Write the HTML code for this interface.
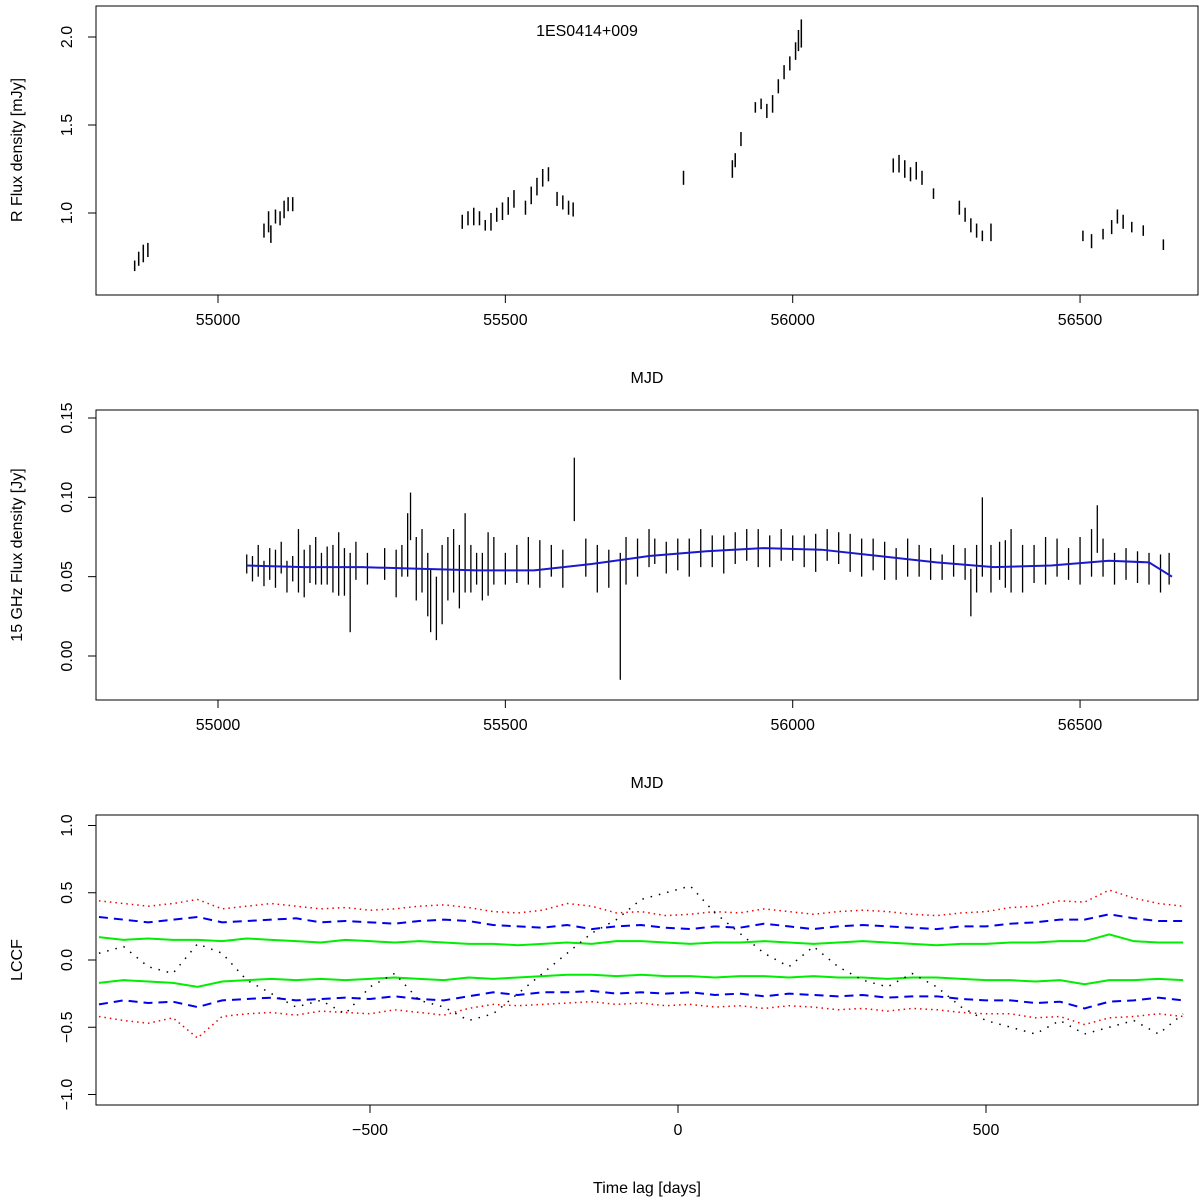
<!DOCTYPE html>
<html><head><meta charset="utf-8"><style>
html,body{margin:0;padding:0;background:#fff;}
svg{display:block;font-family:"Liberation Sans",Arial,sans-serif;}
</style></head><body>
<svg id="chart" width="1200" height="1200" viewBox="0 0 1200 1200" xmlns="http://www.w3.org/2000/svg"></svg>
<script>
// ---- Panel 1: optical R flux (mjd, flux, err)
const optMjd=[54855,54862,54870,54878,55080,55088,55092,55100,55108,55115,55122,55130,55425,55435,55445,55455,55465,55475,55485,55495,55505,55515,55535,55545,55555,55565,55575,55590,55600,55610,55618,55810,55895,55900,55910,55935,55945,55955,55965,55975,55985,55995,56005,56010,56015,56175,56185,56195,56205,56215,56225,56245,56290,56300,56310,56320,56330,56345,56505,56520,56540,56555,56565,56575,56590,56610,56645];
const optFlux=[0.70,0.74,0.77,0.79,0.90,0.95,0.88,0.98,0.97,1.02,1.05,1.05,0.95,0.97,0.98,0.97,0.93,0.95,0.99,1.01,1.04,1.08,1.03,1.10,1.15,1.20,1.22,1.08,1.06,1.03,1.02,1.20,1.25,1.30,1.42,1.60,1.62,1.58,1.62,1.72,1.80,1.85,1.92,1.98,2.02,1.27,1.28,1.25,1.22,1.24,1.20,1.11,1.03,0.99,0.93,0.90,0.87,0.89,0.87,0.84,0.88,0.92,0.98,0.95,0.92,0.90,0.82];
const optErr=[0.03,0.04,0.05,0.04,0.04,0.06,0.05,0.04,0.04,0.05,0.04,0.04,0.04,0.04,0.05,0.04,0.03,0.05,0.04,0.05,0.05,0.05,0.04,0.05,0.05,0.05,0.04,0.04,0.04,0.04,0.04,0.04,0.05,0.04,0.04,0.03,0.03,0.04,0.05,0.04,0.04,0.04,0.05,0.06,0.08,0.04,0.05,0.05,0.04,0.05,0.04,0.03,0.04,0.04,0.04,0.04,0.03,0.05,0.03,0.04,0.03,0.04,0.04,0.04,0.03,0.03,0.03];
// ---- Panel 2: radio 15 GHz
const radMjd=[55050,55060,55070,55080,55090,55100,55110,55120,55130,55140,55150,55160,55170,55180,55190,55200,55210,55220,55230,55240,55260,55290,55310,55320,55330,55335,55345,55355,55365,55370,55380,55390,55400,55410,55420,55430,55440,55450,55460,55470,55480,55500,55520,55540,55560,55580,55600,55620,55640,55660,55680,55700,55710,55730,55750,55760,55780,55800,55820,55840,55860,55880,55900,55920,55940,55960,55980,56000,56020,56040,56060,56080,56100,56120,56140,56160,56180,56200,56220,56240,56260,56280,56300,56310,56320,56330,56345,56360,56370,56380,56400,56420,56440,56460,56480,56500,56520,56530,56540,56560,56580,56600,56620,56640,56655];
const radFlux=[.058,.055,.060,.052,.058,.055,.062,.050,.055,.060,.052,.058,.060,.055,.057,.055,.058,.053,.040,.060,.055,.058,.052,.060,.070,.088,.055,.060,.045,.035,.030,.045,.055,.060,.050,.065,.055,.055,.050,.058,.060,.055,.058,.060,.058,.060,.055,.105,.062,.055,.055,.025,.060,.062,.068,.066,.062,.064,.062,.068,.066,.064,.068,.070,.068,.066,.070,.068,.066,.065,.070,.068,.065,.062,.064,.060,.058,.062,.060,.058,.056,.060,.058,.040,.055,.075,.055,.060,.058,.060,.055,.058,.060,.062,.058,.060,.065,.080,.062,.055,.058,.056,.055,.052,.055];
const radErr=[.006,.008,.01,.008,.01,.012,.01,.01,.008,.02,.015,.012,.015,.01,.012,.015,.02,.015,.025,.012,.01,.01,.015,.01,.02,.015,.02,.02,.02,.02,.02,.025,.02,.02,.02,.025,.015,.01,.015,.02,.015,.01,.012,.015,.015,.01,.012,.02,.012,.015,.012,.04,.015,.012,.012,.008,.01,.01,.012,.012,.01,.012,.01,.01,.012,.01,.01,.008,.01,.012,.01,.01,.012,.012,.01,.012,.01,.012,.01,.01,.008,.01,.01,.015,.015,.025,.015,.012,.015,.02,.015,.012,.015,.012,.01,.015,.015,.015,.012,.01,.01,.01,.01,.012,.01];
const fitMjd=[55050,55150,55250,55350,55450,55550,55650,55750,55850,55950,56050,56150,56250,56350,56450,56550,56620,56660];
const fitVal=[.057,.056,.056,.055,.054,.054,.058,.063,.066,.068,.067,.063,.059,.056,.057,.060,.059,.050];
// ---- Panel 3: LCCF
const lags=[];for(let l=-940;l<=820;l+=40)lags.push(l);
const greenU=[.17,.15,.16,.15,.15,.14,.16,.15,.14,.13,.15,.14,.13,.14,.13,.12,.12,.11,.12,.13,.12,.14,.14,.13,.12,.13,.13,.14,.13,.12,.13,.14,.13,.12,.11,.12,.12,.13,.13,.14,.14,.19,.14,.13,.13];
const greenL=[-.17,-.15,-.16,-.17,-.20,-.16,-.15,-.14,-.15,-.14,-.15,-.14,-.13,-.14,-.15,-.13,-.14,-.13,-.12,-.11,-.11,-.12,-.11,-.12,-.12,-.13,-.12,-.12,-.13,-.12,-.13,-.13,-.14,-.13,-.13,-.14,-.15,-.15,-.16,-.15,-.18,-.15,-.15,-.14,-.15];
const blueU=[.32,.30,.28,.30,.32,.28,.29,.30,.31,.28,.29,.28,.27,.29,.30,.29,.26,.25,.24,.26,.23,.25,.26,.24,.23,.25,.24,.27,.25,.23,.25,.26,.25,.24,.23,.25,.25,.27,.28,.30,.30,.34,.31,.29,.29];
const blueL=[-.33,-.30,-.32,-.31,-.35,-.30,-.29,-.28,-.30,-.29,-.28,-.29,-.27,-.29,-.30,-.27,-.24,-.26,-.24,-.24,-.23,-.25,-.24,-.25,-.24,-.26,-.25,-.27,-.25,-.26,-.27,-.26,-.28,-.27,-.27,-.29,-.30,-.30,-.32,-.31,-.36,-.31,-.30,-.28,-.30];
const redU=[.44,.42,.40,.42,.45,.38,.40,.42,.40,.38,.39,.37,.38,.40,.41,.39,.36,.35,.37,.42,.40,.35,.36,.33,.34,.36,.35,.38,.36,.34,.36,.37,.36,.34,.33,.35,.36,.39,.40,.44,.43,.52,.46,.42,.40];
const redL=[-.42,-.45,-.47,-.43,-.58,-.42,-.40,-.39,-.41,-.38,-.39,-.40,-.37,-.39,-.41,-.36,-.33,-.34,-.33,-.32,-.31,-.33,-.32,-.34,-.33,-.35,-.34,-.36,-.34,-.35,-.37,-.36,-.38,-.36,-.37,-.39,-.40,-.40,-.43,-.42,-.48,-.43,-.42,-.40,-.42];
const lccf=[.05,.10,-.05,-.10,.12,.05,-.15,-.25,-.35,-.30,-.40,-.20,-.10,-.30,-.35,-.45,-.40,-.25,-.10,.05,.20,.30,.45,.50,.55,.35,.20,.05,-.05,.10,-.05,-.15,-.20,-.10,-.20,-.35,-.45,-.50,-.55,-.45,-.55,-.50,-.45,-.55,-.40];

const svg=document.getElementById('chart');
const NS='http://www.w3.org/2000/svg';
function mk(tag,attrs,parent){const e=document.createElementNS(NS,tag);for(const k in attrs)e.setAttribute(k,attrs[k]);(parent||svg).appendChild(e);return e;}
const xM=v=>218+(v-55000)*0.5747;
const y1=v=>213-(v-1)*176;
const y2=v=>656-v*1586.7;
const xL=v=>678+v*0.616;
const y3=v=>960-v*134.5;

function frame(top,bot,name){const r=mk('rect',{x:96,y:top,width:1102,height:bot-top,fill:'none',stroke:'#000','stroke-width':1});
}
function xticks(vals,fx,bot,name){const g=mk('g',{});
vals.forEach(v=>{mk('line',{x1:fx(v),x2:fx(v),y1:bot,y2:bot+8,stroke:'#000'},g);
const t=mk('text',{x:fx(v),y:bot+30,'font-size':16,'text-anchor':'middle'},g);t.textContent=v<0?'\u2212'+(-v):v;});}
function yticks(vals,labels,fy,name){const g=mk('g',{});
vals.forEach((v,i)=>{const y=fy(v);mk('line',{x1:88,x2:96,y1:y,y2:y,stroke:'#000'},g);
const t=mk('text',{x:72,y:y,'font-size':16,'text-anchor':'middle',transform:`rotate(-90 72 ${y})`},g);t.textContent=labels[i];});}
function label(x,y,txt,rot,name){const t=mk('text',{x:x,y:y,'font-size':16,'text-anchor':'middle'});if(rot)t.setAttribute('transform',`rotate(-90 ${x} ${y})`);t.textContent=txt;
}

// Panel 1
frame(6,295,'optical-plot-frame');
xticks([55000,55500,56000,56500],xM,295,'optical-x-axis');
yticks([1.0,1.5,2.0],['1.0','1.5','2.0'],y1,'optical-y-axis');
label(647,383,'MJD',false,'optical-x-axis-title');
label(22,150,'R Flux density [mJy]',true,'optical-y-axis-title');
label(587,36,'1ES0414+009',false,'source-title');
const g1=mk('g',{stroke:'#000','stroke-width':1.5});
optMjd.forEach((m,i)=>{const l=mk('line',{x1:xM(m),x2:xM(m),y1:y1(optFlux[i]-optErr[i]),y2:y1(optFlux[i]+optErr[i])},g1);
});

// Panel 2
frame(410,700,'radio-plot-frame');
xticks([55000,55500,56000,56500],xM,700,'radio-x-axis');
yticks([0,0.05,0.10,0.15],['0.00','0.05','0.10','0.15'],y2,'radio-y-axis');
label(647,788,'MJD',false,'radio-x-axis-title');
label(22,555,'15 GHz Flux density [Jy]',true,'radio-y-axis-title');
const g2=mk('g',{stroke:'#000','stroke-width':1.3});
radMjd.forEach((m,i)=>{const l=mk('line',{x1:xM(m),x2:xM(m),y1:y2(radFlux[i]-radErr[i]),y2:y2(radFlux[i]+radErr[i])},g2);
});
const fit=mk('polyline',{points:fitMjd.map((m,i)=>xM(m)+','+y2(fitVal[i])).join(' '),fill:'none',stroke:'#1a1acc','stroke-width':2});


// Panel 3
frame(815,1105,'lccf-plot-frame');
xticks([-500,0,500],xL,1105,'lccf-x-axis');
yticks([-1,-0.5,0,0.5,1],['\u22121.0','\u22120.5','0.0','0.5','1.0'],y3,'lccf-y-axis');
label(647,1193,'Time lag [days]',false,'lccf-x-axis-title');
label(22,960,'LCCF',true,'lccf-y-axis-title');
function curve(arr,color,dash,name,w){const p=mk('polyline',{points:lags.map((l,i)=>xL(l)+','+y3(arr[i])).join(' '),fill:'none',stroke:color,'stroke-width':w,'stroke-dasharray':dash});
}
curve(redU,'#e00','1.5 4','red-upper-band',1.5);curve(redL,'#e00','1.5 4','red-lower-band',1.5);
curve(blueU,'#00e','9 6','blue-upper-band',2);curve(blueL,'#00e','9 6','blue-lower-band',2);
curve(greenU,'#0e0','','green-upper-band',2);curve(greenL,'#0e0','','green-lower-band',2);
curve(lccf,'#000','1.5 7','lccf-dotted-line',1.5);
</script>
</body></html>
